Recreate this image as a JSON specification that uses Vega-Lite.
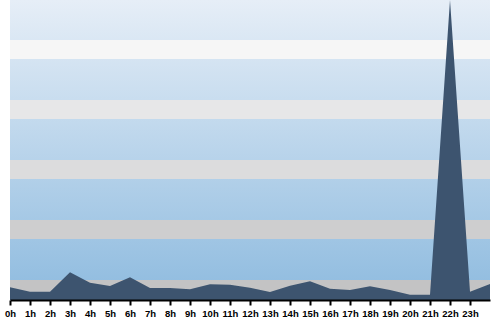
{
  "$schema": "https://vega.github.io/schema/vega-lite/v6.json",
  "width": 480,
  "height": 300,
  "autosize": {"type": "none"},
  "padding": {"left": 10, "top": 0, "right": 10, "bottom": 20},
  "config": {"view": {"stroke": null}},
  "layer": [
    {
      "data": {"values": [{"x0": 0, "x1": 24, "y0": 0, "y1": 300}]},
      "mark": {"type": "rect", "color": {"gradient": "linear", "x1": 0, "y1": 0, "x2": 0, "y2": 1, "stops": [{"offset": 0, "color": "#e6eef7"}, {"offset": 1, "color": "#8ebbdf"}]}},
      "encoding": {
        "x": {"field": "x0", "type": "quantitative", "scale": {"domain": [0, 24], "nice": false},
          "axis": {
            "title": null,
            "values": [0,1,2,3,4,5,6,7,8,9,10,11,12,13,14,15,16,17,18,19,20,21,22,23],
            "tickCount": 24,
            "labelExpr": "datum.value + 'h'",
            "labelFont": "Liberation Sans",
            "labelFontWeight": "bold",
            "labelFontSize": 9.5,
            "labelColor": "#000000",
            "labelFlush": false,
            "labelOverlap": false,
            "labelBound": false,
            "labelPadding": 3,
            "domainColor": "#000000",
            "domainWidth": 2,
            "tickColor": "#000000",
            "tickWidth": 2,
            "tickSize": 5,
            "grid": false,
            "zindex": 1
          }},
        "x2": {"field": "x1"},
        "y": {"field": "y0", "type": "quantitative", "scale": {"domain": [0, 300], "nice": false}, "axis": null},
        "y2": {"field": "y1"}
      }
    },
    {
      "data": {"values": [
        {"x0": 0, "x1": 24, "y0": 0, "y1": 20, "c": "#c3c3c4"},
        {"x0": 0, "x1": 24, "y0": 61, "y1": 80, "c": "#cececf"},
        {"x0": 0, "x1": 24, "y0": 121, "y1": 140, "c": "#dcdcdd"},
        {"x0": 0, "x1": 24, "y0": 181, "y1": 200, "c": "#e7e7e8"},
        {"x0": 0, "x1": 24, "y0": 241, "y1": 260, "c": "#f6f6f6"}
      ]},
      "mark": {"type": "rect"},
      "encoding": {
        "x": {"field": "x0", "type": "quantitative"},
        "x2": {"field": "x1"},
        "y": {"field": "y0", "type": "quantitative"},
        "y2": {"field": "y1"},
        "color": {"field": "c", "type": "nominal", "scale": null, "legend": null}
      }
    },
    {
      "data": {"values": [
        {"hour": 0, "value": 12.7},
        {"hour": 1, "value": 8.3},
        {"hour": 2, "value": 8.3},
        {"hour": 3, "value": 27.7},
        {"hour": 4, "value": 17.3},
        {"hour": 5, "value": 14},
        {"hour": 6, "value": 22.7},
        {"hour": 7, "value": 12},
        {"hour": 8, "value": 12},
        {"hour": 9, "value": 10.7},
        {"hour": 10, "value": 15.7},
        {"hour": 11, "value": 15.3},
        {"hour": 12, "value": 12.3},
        {"hour": 13, "value": 8},
        {"hour": 14, "value": 14.3},
        {"hour": 15, "value": 18.7},
        {"hour": 16, "value": 11.3},
        {"hour": 17, "value": 10},
        {"hour": 18, "value": 13.7},
        {"hour": 19, "value": 10},
        {"hour": 20, "value": 5.3},
        {"hour": 21, "value": 5.3},
        {"hour": 22, "value": 300},
        {"hour": 23, "value": 8.3},
        {"hour": 24, "value": 16}
      ]},
      "mark": {"type": "area", "color": "#3d546f", "opacity": 1},
      "encoding": {
        "x": {"field": "hour", "type": "quantitative"},
        "y": {"field": "value", "type": "quantitative"}
      }
    }
  ]
}
